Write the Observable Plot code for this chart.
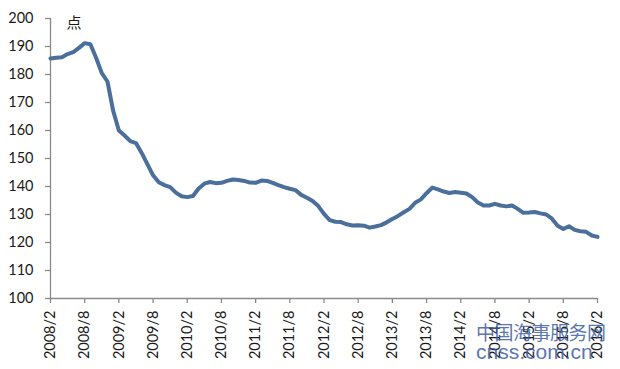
<!DOCTYPE html>
<html><head><meta charset="utf-8">
<script src="https://cdn.jsdelivr.net/npm/d3@7"></script>
<script src="https://cdn.jsdelivr.net/npm/@observablehq/plot@0.6"></script>
<style>
body{margin:0;background:#fff}
#chart{position:relative;width:620px;height:369px;overflow:hidden}
#wm{position:absolute;left:476px;top:322px;font-family:"Noto Sans CJK SC",sans-serif;color:#3f5fa3;opacity:0.85;line-height:1}
#wm .a{font-size:19px;letter-spacing:-0.5px}
#wm .b{font-size:21px;font-family:"Liberation Sans",sans-serif;margin-top:0px}
</style>
</head><body><div id="chart"></div>
<script>
const tickLabels = ["2008/2","2008/8","2009/2","2009/8","2010/2","2010/8","2011/2","2011/8","2012/2","2012/8","2013/2","2013/8","2014/2","2014/8","2015/2","2015/8","2016/2"];
const values = [185.7,186,186.2,187.3,188,189.5,191.2,190.8,186,180.5,177.5,167,160,158.2,156.2,155.5,152,148,144,141.5,
 140.5,139.8,137.8,136.5,136.2,136.6,139.3,141,141.6,141.2,141.3,142,142.5,142.3,142,141.4,141.3,142.1,142,141.3,
 140.5,139.8,139.2,138.7,137,136,134.8,133,130.2,128,127.4,127.3,126.5,126.1,126.2,126,125.3,125.7,126.2,127.2,
 128.4,129.5,130.8,132,134.2,135.4,137.6,139.6,139,138.2,137.7,138,137.8,137.5,136.2,134.3,133.2,133.2,133.8,133.2,
 132.9,133.2,132,130.6,130.7,130.9,130.4,130,128.5,126,124.8,125.8,124.5,124,123.8,122.5,122];
const yTicks = [100,110,120,130,140,150,160,170,180,190,200];
const unitLabel = "点";
const watermark = ["中国海事服务网","cnss.com.cn"];

const data = values.map((v, i) => ({i, v}));
const xTicks = tickLabels.map((_, k) => k * 6);
const axisColor = "#8a8a8a";

const plot = Plot.plot({
  width: 620, height: 369,
  marginLeft: 50, marginRight: 23, marginTop: 18, marginBottom: 71,
  style: {fontFamily: "Lato, sans-serif", background: "#fff", color: "#1a1a1a"},
  x: {domain: [0, 96]},
  y: {domain: [100, 200]},
  marks: [
    Plot.axisY({ticks: yTicks, tickSize: 5, tickPadding: 12, fontSize: 14.5, stroke: axisColor, strokeWidth: 1.3, label: null}),
    Plot.axisX({ticks: xTicks, tickFormat: d => tickLabels[d / 6], tickRotate: -90, tickSize: 5, tickPadding: 7, fontSize: 14.5, stroke: axisColor, strokeWidth: 1.3, label: null}),
    Plot.ruleX([0], {stroke: axisColor, strokeWidth: 1.3}),
    Plot.ruleY([100], {stroke: axisColor, strokeWidth: 1.3}),
    Plot.line(data, {x: "i", y: "v", stroke: "#4b6f9b", strokeWidth: 4, curve: "linear", strokeLinejoin: "round"}),
    Plot.text([unitLabel], {frameAnchor: "top-left", dx: 16, dy: -1, fontSize: 15, fontFamily: "Noto Sans CJK SC", fill: "#1a1a1a"})
  ]
});
const el = document.getElementById("chart");
el.appendChild(plot);
const wm = document.createElement("div");
wm.id = "wm";
wm.innerHTML = `<div class="a">${watermark[0]}</div><div class="b">${watermark[1]}</div>`;
el.appendChild(wm);
</script>
</body></html>
